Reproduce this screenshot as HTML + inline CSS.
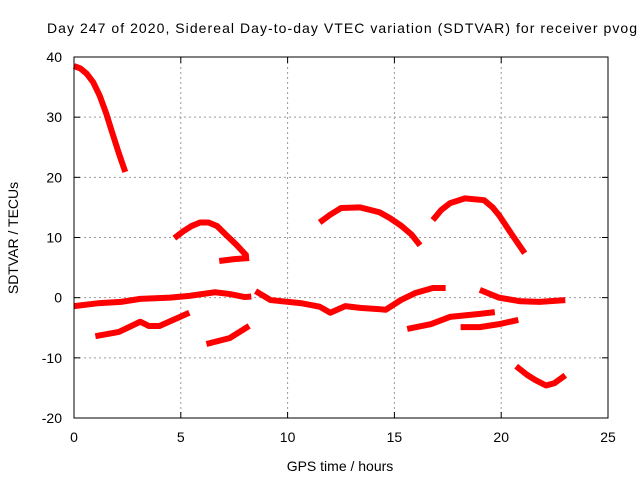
<!DOCTYPE html>
<html><head><meta charset="utf-8"><style>body{margin:0;background:#fff}svg{display:block;font-family:"Liberation Sans",sans-serif}</style></head>
<body>
<svg id="chart" width="640" height="480" xmlns="http://www.w3.org/2000/svg">
<rect width="640" height="480" fill="#fff"/>
<text x="47" y="33" font-size="14" textLength="590" lengthAdjust="spacing">Day 247 of 2020, Sidereal Day-to-day VTEC variation (SDTVAR) for receiver pvog</text>
<g id="grid"></g><g id="series"></g><g id="axes"></g>
<text x="340" y="471" font-size="14" text-anchor="middle">GPS time / hours</text>
<text transform="translate(18,238) rotate(-90)" font-size="14" text-anchor="middle">SDTVAR / TECUs</text>
</svg>
<script>
const xTicks=[0,5,10,15,20,25];
const yTicks=[-20,-10,0,10,20,30,40];
const arc1=[[0,38.5],[0.3,38.1],[0.6,37.2],[0.9,35.8],[1.2,33.6],[1.5,30.7],[1.8,27.3],[2.1,24],[2.4,20.9]];
const arc2=[[4.7,9.9],[5.1,11],[5.5,11.9],[5.9,12.5],[6.3,12.5],[6.7,11.9],[7.1,10.5],[7.6,8.8],[8.1,6.9]];
const arc3=[[6.8,6.1],[7.5,6.4],[8.2,6.6]];
const arc4=[[0,-1.4],[1.2,-0.9],[2.2,-0.7],[3.1,-0.2],[4.5,0],[5.4,0.3],[6.6,0.9],[7.3,0.6],[8,0.1],[8.3,0.2]];
const arc4b=[[8.5,1.1],[9.2,-0.4],[10.6,-0.9],[11.5,-1.5],[12,-2.5],[12.7,-1.4],[13.4,-1.7],[14.6,-2],[15.3,-0.4],[16,0.8],[16.8,1.6],[17.4,1.6]];
const arc4c=[[19,1.3],[19.9,0],[20.9,-0.6],[21.8,-0.7],[23,-0.4]];
const arc5=[[1,-6.4],[2.1,-5.7],[3.1,-4],[3.5,-4.7],[4,-4.7],[5.4,-2.5]];
const arc6=[[6.2,-7.7],[7.3,-6.7],[8.2,-4.7]];
const arc7=[[11.5,12.5],[12,13.8],[12.5,14.9],[13.4,15],[14.3,14.2],[14.8,13.2],[15.3,12],[15.8,10.5],[16.2,8.7]];
const arc8=[[16.8,12.9],[17.2,14.6],[17.6,15.7],[18.3,16.5],[19.2,16.2],[19.6,15],[19.9,13.7],[20.5,10.5],[21.1,7.4]];
const arc9=[[15.6,-5.2],[16.7,-4.4],[17.6,-3.2],[19,-2.7],[19.7,-2.4]];
const arc10=[[18.1,-4.9],[19,-4.9],[19.9,-4.4],[20.8,-3.7]];
const arc11=[[20.7,-11.4],[21.2,-12.8],[21.6,-13.7],[22.1,-14.6],[22.5,-14.2],[23,-12.9]];
const allArcs=[arc1,arc2,arc3,arc4,arc4b,arc4c,arc5,arc6,arc7,arc8,arc9,arc10,arc11];
const X0=74,X1=608,Y0=418,Y1=57;
const sx=h=>X0+(h-0)/(25-0)*(X1-X0);
const sy=v=>Y0-(v+20)/60*(Y0-Y1);
const NS="http://www.w3.org/2000/svg";
function mk(t,a,p){const e=document.createElementNS(NS,t);for(const k in a)e.setAttribute(k,a[k]);p.appendChild(e);return e;}
const grid=document.getElementById('grid'),axes=document.getElementById('axes'),ser=document.getElementById('series');
xTicks.forEach(t=>{
 if(t>0&&t<25){const l=mk('line',{x1:sx(t),x2:sx(t),y1:Y1,y2:Y0,stroke:'#999','stroke-dasharray':'2,3'},grid);
 
 }
 mk('line',{x1:sx(t),x2:sx(t),y1:Y0,y2:Y0-6,stroke:'#000'},axes);
 mk('line',{x1:sx(t),x2:sx(t),y1:Y1,y2:Y1+6,stroke:'#000'},axes);
 const tx=mk('text',{x:sx(t),y:Y0+24,'font-size':14,'text-anchor':'middle'},axes);tx.textContent=t;
 
 
});
yTicks.forEach(t=>{
 if(t>-20&&t<40){const l=mk('line',{x1:X0,x2:X1,y1:sy(t),y2:sy(t),stroke:'#999','stroke-dasharray':'2,3'},grid);
 
 }
 mk('line',{x1:X0,x2:X0+6,y1:sy(t),y2:sy(t),stroke:'#000'},axes);
 mk('line',{x1:X1,x2:X1-6,y1:sy(t),y2:sy(t),stroke:'#000'},axes);
 const tx=mk('text',{x:X0-12,y:sy(t)+5,'font-size':14,'text-anchor':'end'},axes);tx.textContent=t;
 
 
});
const fr=mk('rect',{x:X0,y:Y1,width:X1-X0,height:Y0-Y1,fill:'none',stroke:'#000'},axes);


allArcs.forEach(a=>{
 const p=mk('polyline',{points:a.map(d=>sx(d[0])+','+sy(d[1])).join(' '),fill:'none',stroke:'#f00','stroke-width':6,'stroke-linejoin':'round'},ser);
 
 
});
</script>
</body></html>
